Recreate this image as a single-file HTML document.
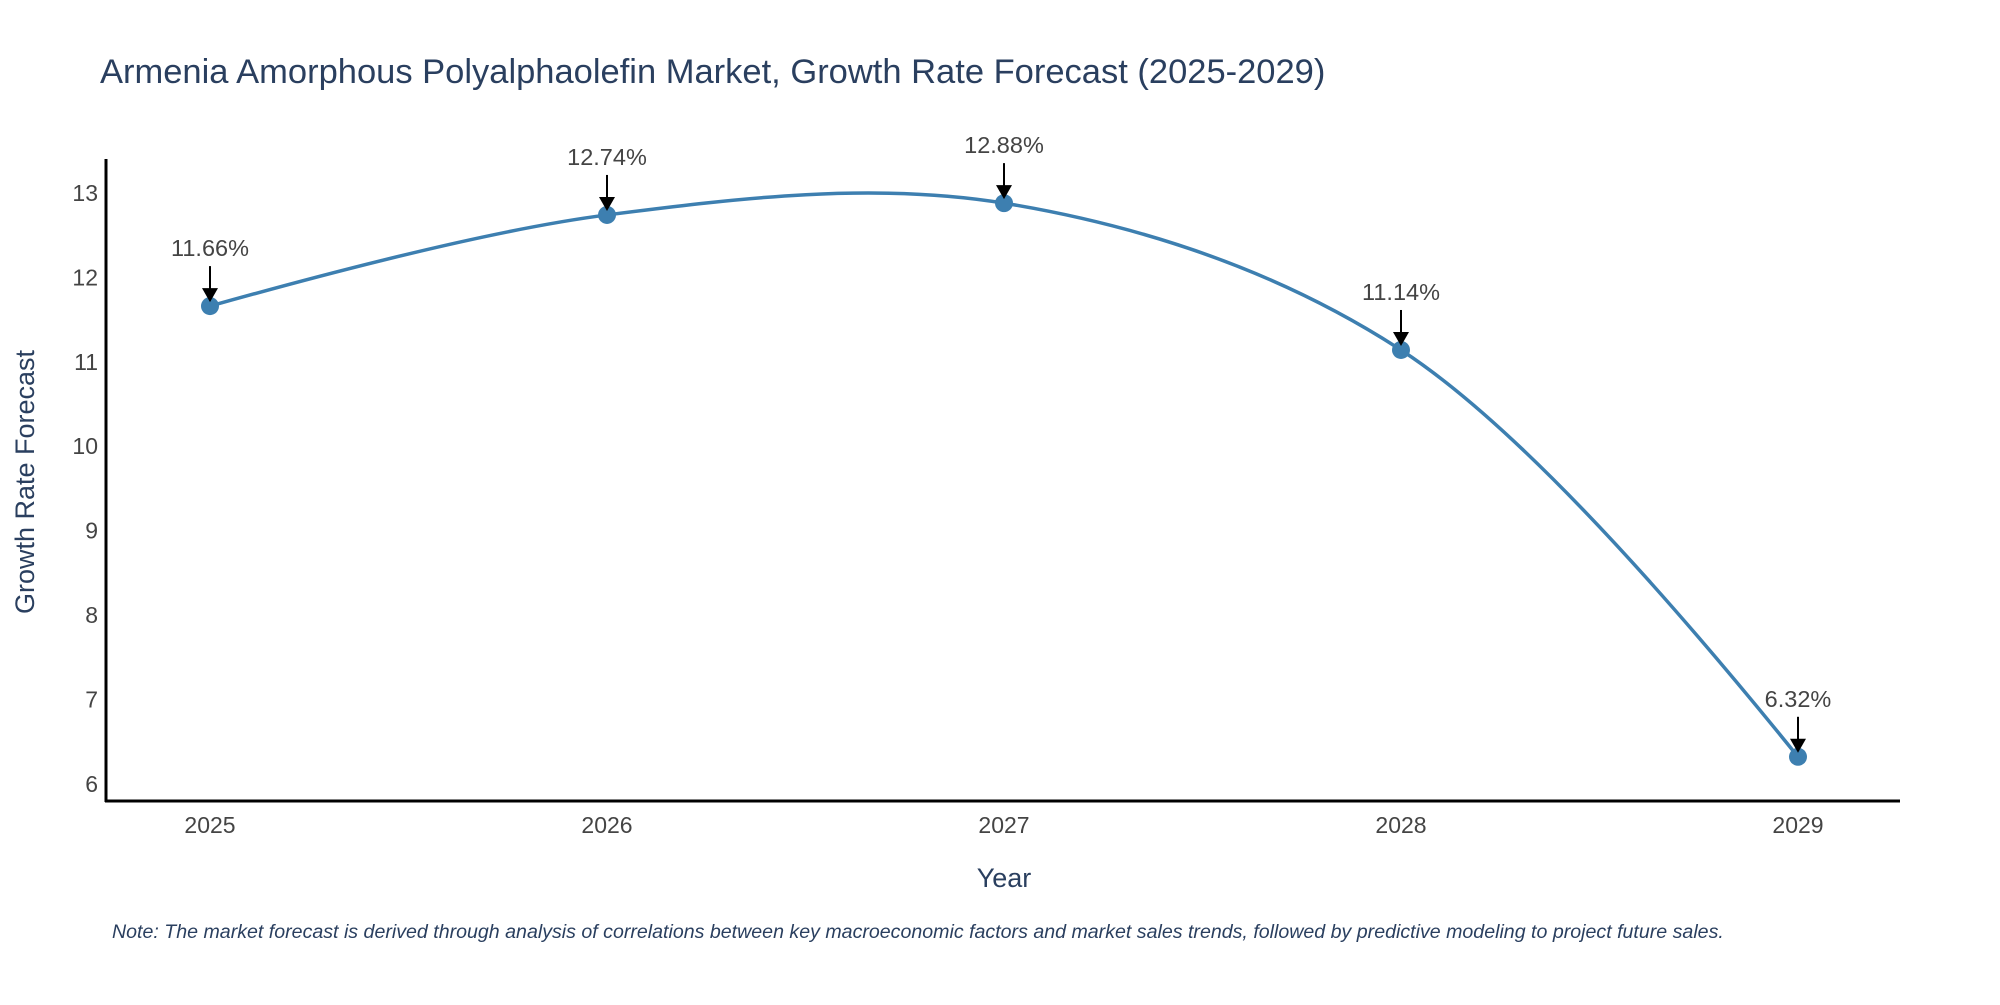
<!DOCTYPE html>
<html><head><meta charset="utf-8"><style>
body{margin:0;background:#fff;}
svg text{font-family:"Liberation Sans",sans-serif;}
</style></head><body>
<svg id="chart" width="2000" height="1000" viewBox="0 0 2000 1000" xmlns="http://www.w3.org/2000/svg">
<rect width="2000" height="1000" fill="#fff"/>
<text x="100" y="83" font-size="34.5" fill="#2a3f5f">Armenia Amorphous Polyalphaolefin Market, Growth Rate Forecast (2025-2029)</text>
<g id="yticks"></g><g id="xticks"></g>
<line x1="106" y1="159" x2="106" y2="802" stroke="#000" stroke-width="3"/>
<line x1="105" y1="801" x2="1900" y2="801" stroke="#000" stroke-width="3"/>
<path id="line" fill="none" stroke="#3d7fb0" stroke-width="3.5"/>
<g id="marks"></g>
<text x="1004" y="887" font-size="27" fill="#2a3f5f" text-anchor="middle">Year</text>
<text transform="translate(34,482) rotate(-90)" font-size="27" fill="#2a3f5f" text-anchor="middle">Growth Rate Forecast</text>
<text x="112" y="938" font-size="19.6" font-style="italic" fill="#2a3f5f">Note: The market forecast is derived through analysis of correlations between key macroeconomic factors and market sales trends, followed by predictive modeling to project future sales.</text>
</svg>
<script>
const years = [2025, 2026, 2027, 2028, 2029];
const values = [11.66, 12.74, 12.88, 11.14, 6.32];
const labels = ["11.66%", "12.74%", "12.88%", "11.14%", "6.32%"];
const yTicks = [6, 7, 8, 9, 10, 11, 12, 13];

const NS = "http://www.w3.org/2000/svg";
function xs(yr){ return 210 + (yr - 2025) * 397; }
function ys(v){ return 193 + (13 - v) * 84.4; }
function mk(tag, attrs, parent){ const e = document.createElementNS(NS, tag); for (const k in attrs) e.setAttribute(k, attrs[k]); parent.appendChild(e); return e; }

const yt = document.getElementById('yticks');
yTicks.forEach(t => {
  const e = mk('text', {x: 98, y: ys(t) + 8, 'font-size': 23, fill: '#444', 'text-anchor': 'end'}, yt);
  
  
  e.textContent = t;
});
const xt = document.getElementById('xticks');
years.forEach(y => {
  const e = mk('text', {x: xs(y), y: 833, 'font-size': 23, fill: '#444', 'text-anchor': 'middle'}, xt);
  
  
  e.textContent = y;
});

const pts = years.map((y, i) => [xs(y), ys(values[i])]);
function tangent(p, t, n, s){
  const d1x = p[0]-t[0], d1y = p[1]-t[1], d2x = n[0]-t[0], d2y = n[1]-t[1];
  const d1a = Math.pow(d1x*d1x + d1y*d1y, 0.25), d2a = Math.pow(d2x*d2x + d2y*d2y, 0.25);
  const nx = (d2a*d2a*d1x - d1a*d1a*d2x) * s, ny = (d2a*d2a*d1y - d1a*d1a*d2y) * s;
  const den1 = 3*d2a*(d1a+d2a), den2 = 3*d1a*(d1a+d2a);
  return [[t[0] + nx/den1, t[1] + ny/den1], [t[0] - nx/den2, t[1] - ny/den2]];
}
const tg = [];
for (let i = 1; i < pts.length - 1; i++) tg.push(tangent(pts[i-1], pts[i], pts[i+1], 1));
let d = `M${pts[0]} Q${tg[0][0]} ${pts[1]}`;
for (let i = 2; i < pts.length - 1; i++) d += ` C${tg[i-2][1]} ${tg[i-1][0]} ${pts[i]}`;
d += ` Q${tg[tg.length-1][1]} ${pts[pts.length-1]}`;
document.getElementById('line').setAttribute('d', d);

const mg = document.getElementById('marks');
pts.forEach((p, i) => {
  const c = mk('circle', {cx: p[0], cy: p[1], r: 9, fill: '#3d7fb0'}, mg);
  
  
  const a = mk('line', {x1: p[0], y1: p[1] - 40, x2: p[0], y2: p[1] - 16, stroke: '#000', 'stroke-width': 2}, mg);
  
  
  const h = mk('polygon', {points: `${p[0]-8},${p[1]-18} ${p[0]+8},${p[1]-18} ${p[0]},${p[1]-4}`, fill: '#000'}, mg);
  
  
  const t = mk('text', {x: p[0], y: p[1] - 50, 'font-size': 23.5, fill: '#444', 'text-anchor': 'middle'}, mg);
  
  
  t.textContent = labels[i];
});
</script>
</body></html>
